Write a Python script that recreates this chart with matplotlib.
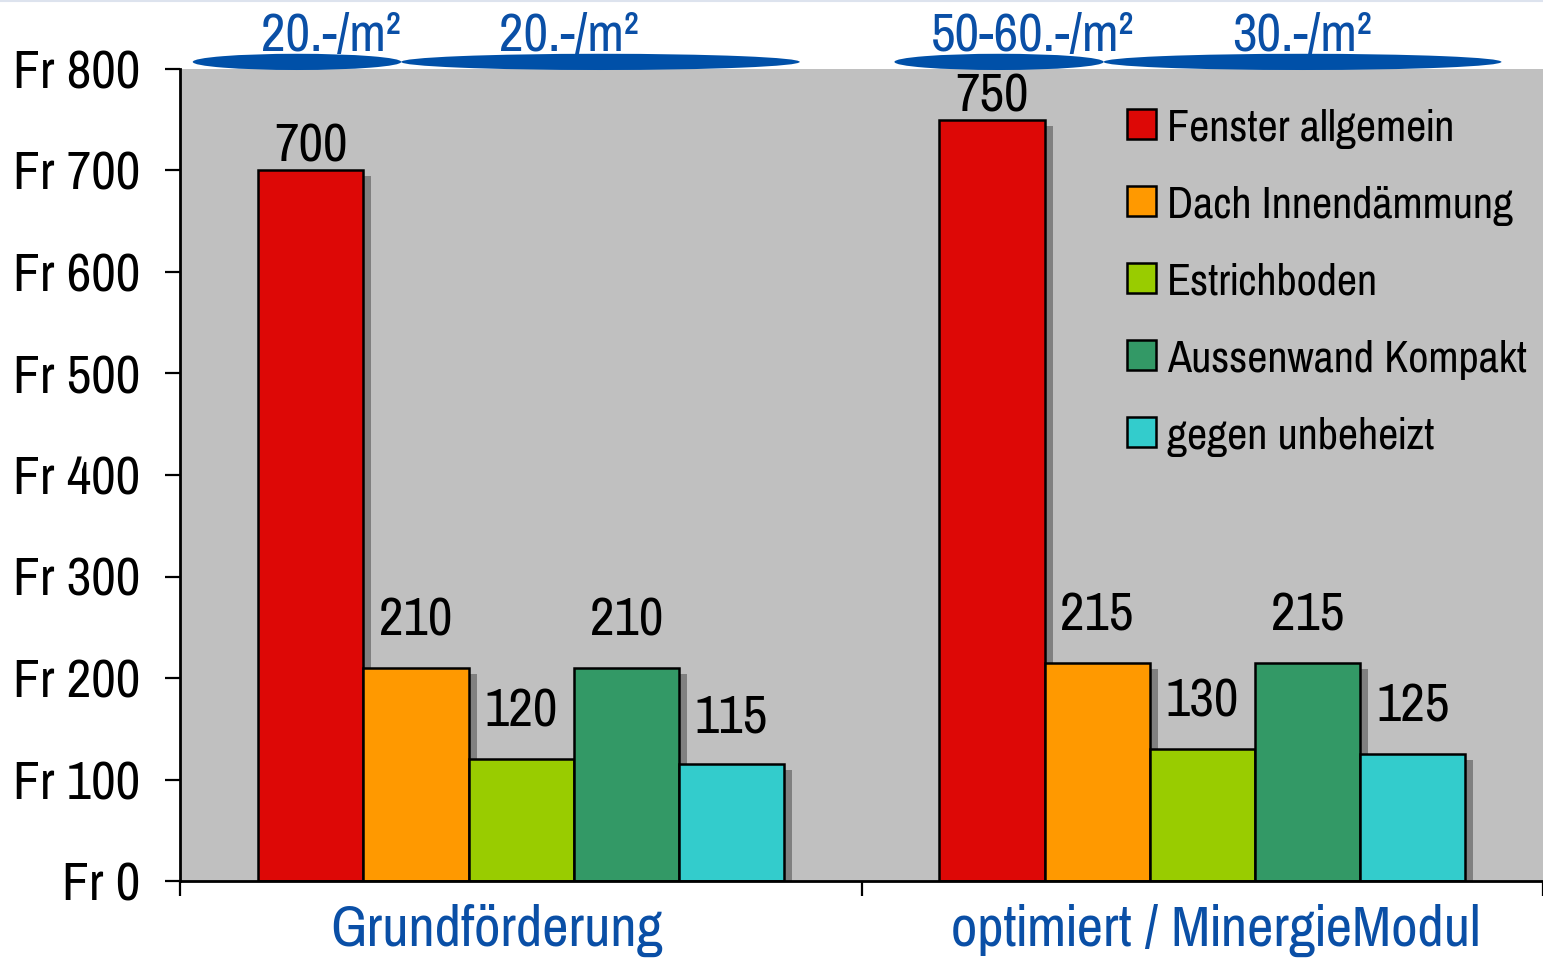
import matplotlib
matplotlib.use("Agg")
import matplotlib.pyplot as plt
import matplotlib.patheffects as pe
from matplotlib.patches import Ellipse
import numpy as np

plt.rcParams['font.family'] = ['Pragati Narrow', 'Archivo Narrow', 'DejaVu Sans']

# data
kategorien = ["Grundförderung", "optimiert / MinergieModul"]
massnahmen = ["Fenster allgemein", "Dach Innendämmung", "Estrichboden",
              "Aussenwand Kompakt", "gegen unbeheizt"]
grund = [700, 210, 120, 210, 115]
optimiert = [750, 215, 130, 215, 125]
farben = ["#DD0806", "#FF9900", "#99CC00", "#339966", "#33CCCC"]
yticks = [0, 100, 200, 300, 400, 500, 600, 700, 800]
ytick_labels = ["Fr %d" % v for v in yticks]
beitraege = ["20.-/m²", "20.-/m²", "50-60.-/m²", "30.-/m²"]

blau = "#0A4FA6"

fig = plt.figure(figsize=(15.43, 9.58), dpi=100)
ax = fig.add_axes([180/1543, 77/958, 1363/1543, 812/958])
ax.set_facecolor("#C0C0C0")

werte = np.array([grund, optimiert])
x = np.arange(len(kategorien))
n = len(massnahmen)
breite = 0.772 / n
schatten = [pe.SimplePatchShadow(offset=(5.8, -4.3), shadow_rgbFace="#808080", alpha=1.0),
            pe.Normal()]

for i in range(n):
    pos = x - 0.772/2 + breite*(i + 0.5)
    bars = ax.bar(pos, werte[:, i], width=breite, color=farben[i],
                  edgecolor="black", linewidth=1.8, label=massnahmen[i],
                  zorder=2)
    for b in bars:
        b.set_path_effects(schatten)
    off = 17 if i == 0 else 34
    for p, v in zip(pos, werte[:, i]):
        ax.annotate(str(v), (p, v), xytext=(0, off), textcoords="offset points",
                    ha="center", va="center", fontsize=42, zorder=5)

ax.set_xlim(-0.5007, 1.492)
ax.set_ylim(0, 800)
ax.set_yticks(yticks)
ax.set_yticklabels(ytick_labels, fontsize=42)
ax.set_xticks([-0.5, 0.5, 1.5])
ax.set_xticklabels([])
ax.tick_params(axis="y", direction="out", length=10.8, width=1.6, pad=18)
ax.tick_params(axis="x", direction="out", length=10.8, width=1.6)
for s in ["top", "right"]:
    ax.spines[s].set_visible(False)
for s in ["left", "bottom"]:
    ax.spines[s].set_linewidth(2.0)

# Kategorienbeschriftung
for xp, t in zip([-0.036, 1.020], kategorien):
    ax.text(xp, -49, t, ha="center", va="center", fontsize=45, color=blau)

# Förderbeiträge oben als Ellipsen
ell_x = [(-0.482, -0.176), (-0.176, 0.409), (0.548, 0.855), (0.855, 1.439)]
txt_x = [-0.279, 0.070, 0.751, 1.146]
for (a, b), tx, t in zip(ell_x, txt_x, beitraege):
    e = Ellipse(((a + b)/2, 807), b - a, 16, facecolor="#0050A8",
                edgecolor="none", clip_on=False, zorder=3)
    ax.add_patch(e)
    ax.text(tx, 833, t, ha="center", va="center", fontsize=42, color=blau,
            clip_on=False)

leg = ax.legend(loc="upper left", bbox_to_anchor=(0.695, 0.951), frameon=False,
                fontsize=34.5, borderpad=0, borderaxespad=0, handlelength=0.6,
                handleheight=0.6, handletextpad=0.23, labelspacing=0.77)
for h in leg.legend_handles:
    h.set_path_effects([])
    h.set_linewidth(1.8)

fig.add_artist(plt.Line2D([0, 1], [0.999, 0.999], color="#DDE3EE", linewidth=1.5))

fig.savefig("out.png", dpi=100)
